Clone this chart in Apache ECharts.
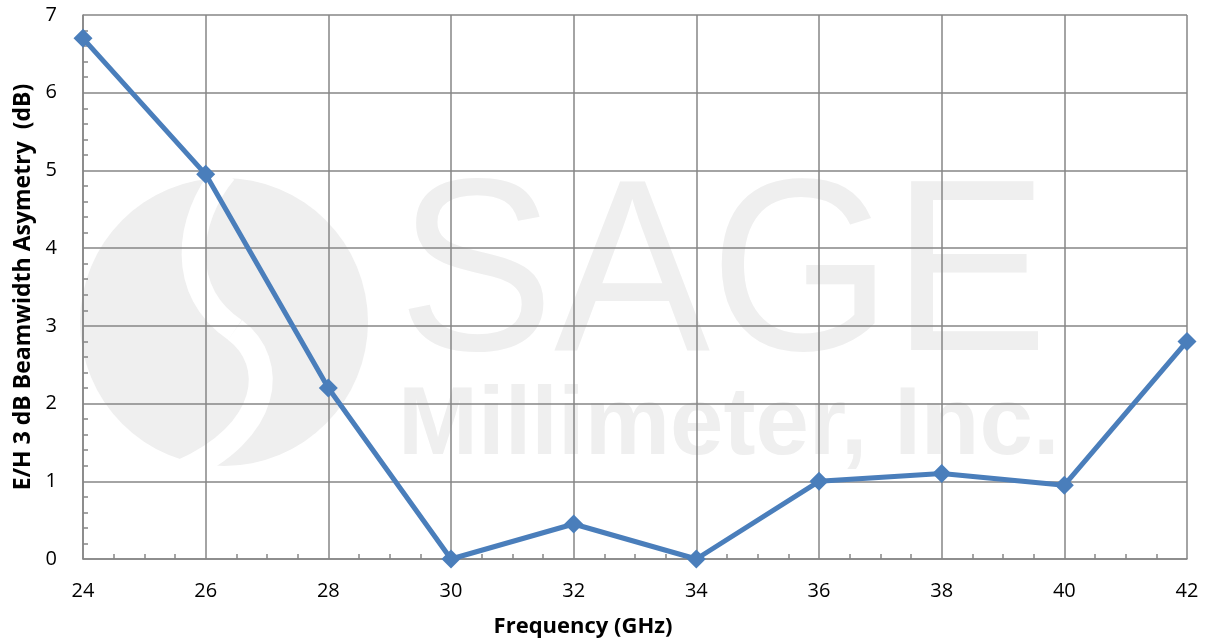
<!DOCTYPE html>
<html>
<head>
<meta charset="utf-8">
<script src="https://cdn.jsdelivr.net/npm/echarts@6/dist/echarts.min.js"></script>
<style>
html,body{margin:0;padding:0;background:#fff;}
#chart{width:1209px;height:641px;}
</style>
</head>
<body>
<div id="chart"></div>
<script>
const frequencies = [24, 26, 28, 30, 32, 34, 36, 38, 40, 42];
const asymmetry = [6.7, 4.95, 2.2, 0.0, 0.45, 0.0, 1.0, 1.1, 0.95, 2.8];
const xTitle = 'Frequency (GHz)';
const yTitle = 'E/H 3 dB Beamwidth Asymetry  (dB)';
const watermarkMain = 'SAGE';
const watermarkSub = 'Millimeter, Inc.';

const chart = echarts.init(document.getElementById('chart'));
const gray = '#868686';
const wm = '#efefef';
const font = '"Open Sans", "Liberation Sans", sans-serif';

chart.setOption({
  animation: false,
  backgroundColor: '#fff',
  grid: {left: 83, right: 22, top: 15, bottom: 82, containLabel: false, outerBoundsMode: 'none'},
  graphic: [
    {type: 'circle', z: -10, shape: {cx: 224, cy: 322, r: 144}, style: {fill: wm}, silent: true},
    {type: 'bezierCurve', z: -9, silent: true,
      shape: {x1: 225, y1: 172, cpx1: 185, cpy1: 220, cpx2: 178, cpy2: 292, x2: 235, y2: 330},
      style: {fill: null, stroke: '#fff', lineWidth: 24}},
    {type: 'bezierCurve', z: -9, silent: true,
      shape: {x1: 235, y1: 330, cpx1: 278, cpy1: 362, cpx2: 272, cpy2: 432, x2: 180, y2: 472},
      style: {fill: null, stroke: '#fff', lineWidth: 24}},
    {type: 'text', z: -10, x: 398, y: 160, scaleX: 0.955, silent: true,
      style: {text: watermarkMain, fill: wm, font: '245px "Liberation Sans", Arial, sans-serif'}},
    {type: 'text', z: -10, x: 398, y: 380, silent: true,
      style: {text: watermarkSub, fill: wm, font: 'bold 96px "Liberation Sans", Arial, sans-serif'}}
  ],
  xAxis: {
    type: 'value', min: 24, max: 42, interval: 2,
    name: xTitle, nameLocation: 'middle', nameGap: 57,
    nameTextStyle: {fontFamily: font, fontWeight: 'bold', fontSize: 22, color: '#000', padding: [0, 104, 0, 0]},
    axisLine: {show: true, lineStyle: {color: gray, width: 1.5}},
    axisTick: {show: false, inside: true},
    minorTick: {show: true, splitNumber: 4, length: 5, lineStyle: {color: gray, width: 1.5}},
    axisLabel: {fontFamily: font, fontSize: 20, color: '#000', margin: 22},
    splitLine: {show: true, lineStyle: {color: gray, width: 1.5}}
  },
  yAxis: {
    type: 'value', min: 0, max: 7, interval: 1,
    name: yTitle, nameLocation: 'middle', nameGap: 44,
    nameTextStyle: {fontFamily: font, fontWeight: 'bold', fontSize: 23, color: '#000'},
    axisLine: {show: true, lineStyle: {color: gray, width: 1.5}},
    axisTick: {show: false, inside: true},
    minorTick: {show: true, splitNumber: 5, length: 5, lineStyle: {color: gray, width: 1.5}},
    axisLabel: {fontFamily: font, fontSize: 20, color: '#000', margin: 26},
    splitLine: {show: true, lineStyle: {color: gray, width: 1.5}}
  },
  series: [{
    type: 'line',
    data: frequencies.map((f, i) => [f, asymmetry[i]]),
    clip: false,
    symbol: 'diamond', symbolSize: 19,
    lineStyle: {color: '#4a7ebb', width: 5},
    itemStyle: {color: '#4a7ebb'},
    z: 5
  }]
});
</script>
</body>
</html>
